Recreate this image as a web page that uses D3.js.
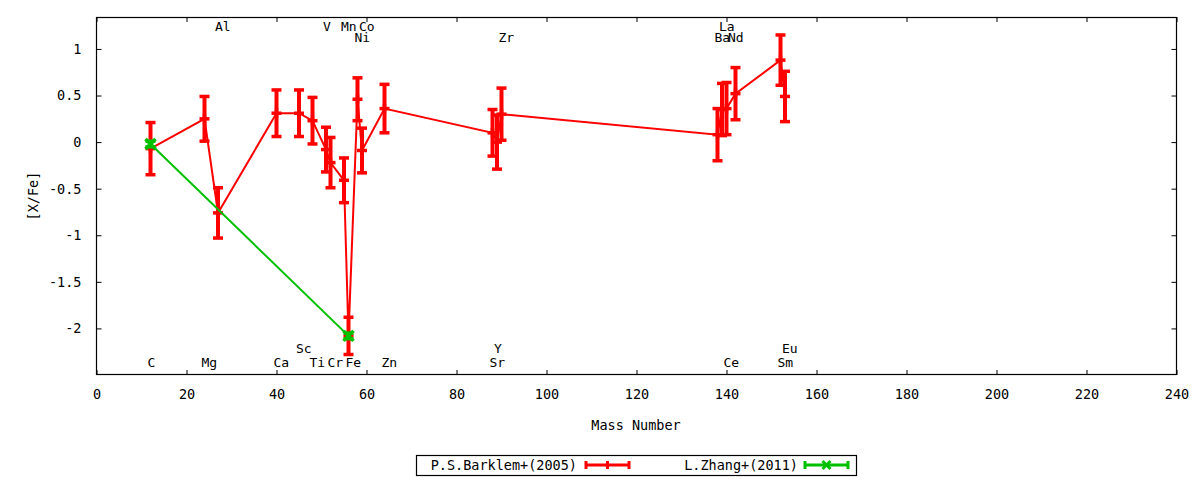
<!DOCTYPE html>
<html>
<head>
<meta charset="utf-8">
<script src="https://cdn.jsdelivr.net/npm/d3@7"></script>
<style>
  html, body { margin: 0; padding: 0; background: #fff; }
  svg text { font-family: "DejaVu Sans Mono", "Liberation Mono", monospace; font-size: 13.5px; fill: #000; }
  svg text.elem { font-size: 13px; }
</style>
</head>
<body>
<svg id="chart" width="1200" height="480"></svg>
<script>
// ---- Data ----
const elements = ["C","Mg","Al","Ca","Sc","Ti","V","Cr","Mn","Fe","Ni","Co","Zn","Sr","Y","Zr","Ba","La","Ce","Nd","Sm","Eu"];
const barklemMass = [12,24,27,40,45,48,51,52,55,56,58,59,64,88,89,90,138,139,140,142,152,153];
const barklemValues = [-0.07,0.25,-0.76,0.31,0.31,0.23,-0.08,-0.22,-0.41,-2.08,0.46,-0.09,0.36,0.10,0.00,0.30,0.08,0.35,0.36,0.52,0.88,0.49];
const barklemErrors = [0.28,0.24,0.27,0.25,0.25,0.25,0.24,0.27,0.24,0.20,0.23,0.24,0.26,0.25,0.29,0.28,0.28,0.28,0.28,0.28,0.27,0.27];

const zhangMass = [12,56];
const zhangValues = [-0.02,-2.08];
const zhangErrors = [0.03,0.03];

const labelNames = ["C","Mg","Al","Ca","Sc","Ti","V","Cr","Mn","Fe","Ni","Co","Zn","Sr","Y","Zr","Ba","La","Ce","Nd","Sm","Eu"];
const labelMass  = [12,24,27,40,45,48,51,52,55,56,58,59,64,88,89,90,138,139,140,141,152,153];
const labelLevel = [-2.37,-2.37,1.24,-2.37,-2.22,-2.37,1.24,-2.37,1.24,-2.37,1.12,1.24,-2.37,-2.37,-2.22,1.12,1.12,1.24,-2.37,1.12,-2.37,-2.22];

const xTicks = [0,20,40,60,80,100,120,140,160,180,200,220,240];
const yTicks = [-2,-1.5,-1,-0.5,0,0.5,1];

const seriesNames = ["P.S.Barklem+(2005)", "L.Zhang+(2011)"];
const seriesColors = ["#ff0000", "#00c000"];

// ---- Layout ----
const svg = d3.select("#chart");
const L = 96.5, R = 1176.5, T = 17, B = 375;
const x = d3.scaleLinear().domain([0,240]).range([L,R]);
const y = d3.scaleLinear().domain([-2.5,1.343]).range([B,T]);

// Axes (ticks inward, mirrored)
const fmt = d => String(d);
const tickLen = 5;
svg.append("g").attr("transform",`translate(0,${B})`)
  .call(d3.axisBottom(x).tickValues(xTicks).tickSize(-tickLen).tickPadding(14).tickFormat(fmt))
  .call(g => { g.select(".domain").remove(); g.selectAll("line").attr("stroke","#000"); g.selectAll("text").attr("font-size",null).attr("font-family",null); });
svg.append("g").attr("transform",`translate(0,${T})`)
  .call(d3.axisTop(x).tickValues(xTicks).tickSize(-tickLen).tickFormat(""))
  .call(g => { g.select(".domain").remove(); g.selectAll("line").attr("stroke","#000"); });
svg.append("g").attr("transform",`translate(${L},0)`)
  .call(d3.axisLeft(y).tickValues(yTicks).tickSize(-tickLen).tickPadding(15).tickFormat(fmt))
  .call(g => { g.select(".domain").remove(); g.selectAll("line").attr("stroke","#000"); g.selectAll("text").attr("font-size",null).attr("font-family",null); });
svg.append("g").attr("transform",`translate(${R},0)`)
  .call(d3.axisRight(y).tickValues(yTicks).tickSize(-tickLen).tickFormat(""))
  .call(g => { g.select(".domain").remove(); g.selectAll("line").attr("stroke","#000"); });

// Frame
svg.append("rect").attr("x",L).attr("y",T+0.5).attr("width",R-L).attr("height",B-T-1)
  .attr("fill","none").attr("stroke","#000").attr("stroke-width",1.2);

// Axis titles
svg.append("text").attr("x",636).attr("y",425).attr("text-anchor","middle").attr("dominant-baseline","central").text("Mass Number");
svg.append("text").attr("transform","translate(33,196) rotate(-90)").attr("text-anchor","middle").attr("dominant-baseline","central").text("[X/Fe]");

// Element labels
svg.append("g").selectAll("text").data(labelNames).join("text")
  .attr("class","elem")
  .attr("x",(d,i)=>x(labelMass[i]) - 3)
  .attr("y",(d,i)=>y(labelLevel[i]))
  .attr("text-anchor","start").attr("dominant-baseline","central")
  .text(d=>d);

// Series drawing
function drawSeries(mass, vals, errs, color, marker) {
  const g = svg.append("g");
  const pts = mass.map((m,i)=>({m, v:vals[i], e:errs[i]}));
  g.append("path").datum(pts)
    .attr("d", d3.line().x(d=>x(d.m)).y(d=>y(d.v)))
    .attr("fill","none").attr("stroke",color).attr("stroke-width",2);
  const cw = 5;
  pts.forEach(d => {
    const cx = x(d.m), y0 = y(d.v - d.e), y1 = y(d.v + d.e);
    g.append("line").attr("x1",cx).attr("x2",cx).attr("y1",y0).attr("y2",y1).attr("stroke",color).attr("stroke-width",4);
    g.append("line").attr("x1",cx-cw).attr("x2",cx+cw).attr("y1",y0).attr("y2",y0).attr("stroke",color).attr("stroke-width",3.5);
    g.append("line").attr("x1",cx-cw).attr("x2",cx+cw).attr("y1",y1).attr("y2",y1).attr("stroke",color).attr("stroke-width",3.5);
    drawMarker(g, cx, y(d.v), color, marker);
  });
}
function drawMarker(g, cx, cy, color, marker) {
  const s = 5;
  if (marker === "plus") {
    g.append("line").attr("x1",cx-s).attr("x2",cx+s).attr("y1",cy).attr("y2",cy).attr("stroke",color).attr("stroke-width",3.5);
    g.append("line").attr("x1",cx).attr("x2",cx).attr("y1",cy-s).attr("y2",cy+s).attr("stroke",color).attr("stroke-width",3.5);
  } else {
    g.append("line").attr("x1",cx-s).attr("x2",cx+s).attr("y1",cy-s).attr("y2",cy+s).attr("stroke",color).attr("stroke-width",3.5);
    g.append("line").attr("x1",cx-s).attr("x2",cx+s).attr("y1",cy+s).attr("y2",cy-s).attr("stroke",color).attr("stroke-width",3.5);
  }
}
drawSeries(barklemMass, barklemValues, barklemErrors, seriesColors[0], "plus");
drawSeries(zhangMass, zhangValues, zhangErrors, seriesColors[1], "cross");

// Legend
const leg = svg.append("g");
leg.append("rect").attr("x",416.5).attr("y",455.5).attr("width",440).attr("height",20)
  .attr("fill","none").attr("stroke","#000").attr("stroke-width",1.2);
const legendItems = [
  {name: seriesNames[0], color: seriesColors[0], textEnd: 577, s0: 586, s1: 629, marker: "plus"},
  {name: seriesNames[1], color: seriesColors[1], textEnd: 798, s0: 805, s1: 848, marker: "cross"}
];
legendItems.forEach(it => {
  const ly = 465;
  leg.append("text").attr("x",it.textEnd).attr("y",ly).attr("text-anchor","end").attr("dominant-baseline","central").text(it.name);
  leg.append("line").attr("x1",it.s0).attr("x2",it.s1).attr("y1",ly).attr("y2",ly).attr("stroke",it.color).attr("stroke-width",3);
  [it.s0, it.s1].forEach(px => leg.append("line").attr("x1",px).attr("x2",px).attr("y1",ly-4).attr("y2",ly+4).attr("stroke",it.color).attr("stroke-width",3));
  const mx = (it.s0+it.s1)/2;
  if (it.marker === "plus") {
    leg.append("line").attr("x1",mx).attr("x2",mx).attr("y1",ly-4).attr("y2",ly+4).attr("stroke",it.color).attr("stroke-width",3);
  } else {
    leg.append("line").attr("x1",mx-4).attr("x2",mx+4).attr("y1",ly-4).attr("y2",ly+4).attr("stroke",it.color).attr("stroke-width",3);
    leg.append("line").attr("x1",mx-4).attr("x2",mx+4).attr("y1",ly+4).attr("y2",ly-4).attr("stroke",it.color).attr("stroke-width",3);
  }
});
</script>
</body>
</html>
